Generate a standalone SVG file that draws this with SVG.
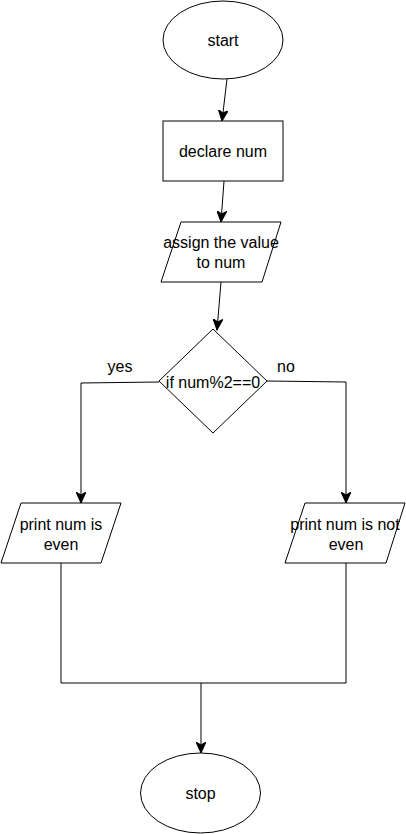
<svg xmlns="http://www.w3.org/2000/svg" width="406" height="834" viewBox="0 0 406 834">
<style>
.s{fill:#fff;stroke:#000;stroke-width:1}
.c{fill:none;stroke:#000;stroke-width:1}
text{font-family:"Liberation Sans",Arial,sans-serif;font-size:16px;fill:#000;text-anchor:middle}
</style>
<defs>
<marker id="a" markerUnits="userSpaceOnUse" markerWidth="12" markerHeight="10" viewBox="0 0 12 10" refX="11" refY="5" orient="auto">
<path d="M0,0 L11,5 L0,10 L3,5 z" fill="#000" stroke="#000" stroke-width="1"/>
</marker>
</defs>
<g id="connectors">
<path class="c" d="M227,79 L222,121" marker-end="url(#a)"/>
<path class="c" d="M224,181 L221,222" marker-end="url(#a)"/>
<path class="c" d="M221,282 L217,330" marker-end="url(#a)"/>
<path class="c" d="M159,382 L81,383 L81,503" marker-end="url(#a)"/>
<path class="c" d="M267,381 L346,382 L346,503" marker-end="url(#a)"/>
<path class="c" d="M61,563 L61,683 L346,683 L346,563"/>
<path class="c" d="M201,683 L201,753" marker-end="url(#a)"/>
<text x="120" y="372">yes</text>
<text x="286" y="372">no</text>
</g>
<g id="start">
<ellipse class="s" cx="223" cy="40" rx="60" ry="39"/>
<text x="223" y="46">start</text>
</g>
<g id="declare">
<rect class="s" x="163" y="121" width="120" height="60"/>
<text x="223" y="157">declare num</text>
</g>
<g id="assign">
<polygon class="s" points="181,222 281,222 262,282 161,282"/>
<text x="221" y="248">assign the value</text>
<text x="221" y="268">to num</text>
</g>
<g id="decision">
<polygon class="s" points="213,329 267,381 213,433 159,381"/>
<text x="213" y="388">if num%2==0</text>
</g>
<g id="even">
<polygon class="s" points="21,503 121,503 101,563 1,563"/>
<text x="61" y="530">print num is</text>
<text x="61" y="550">even</text>
</g>
<g id="noteven">
<polygon class="s" points="305,503 405,503 386,563 285,563"/>
<text x="345" y="530">print num is not</text>
<text x="346" y="550">even</text>
</g>
<g id="stop">
<ellipse class="s" cx="200.5" cy="793" rx="60" ry="40"/>
<text x="200.5" y="799">stop</text>
</g>
</svg>
